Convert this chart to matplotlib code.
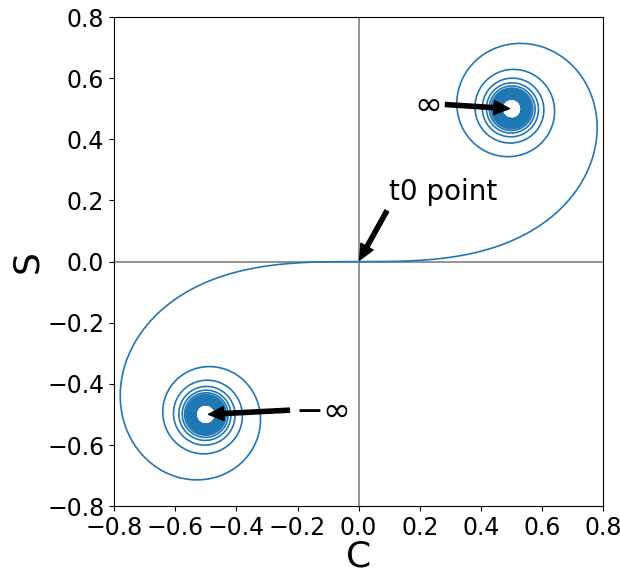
import numpy as np
import matplotlib
matplotlib.use("Agg")
import matplotlib.pyplot as plt

# Euler (Cornu) spiral: C(t), S(t) Fresnel integrals
t_min, t_max = -10.0, 10.0
n_points = 40001

t = np.linspace(t_min, t_max, n_points)
dt = t[1] - t[0]
fc = np.cos(np.pi * t**2 / 2)
fs = np.sin(np.pi * t**2 / 2)
C = np.concatenate([[0], np.cumsum((fc[1:] + fc[:-1]) / 2 * dt)])
S = np.concatenate([[0], np.cumsum((fs[1:] + fs[:-1]) / 2 * dt)])
i0 = np.argmin(np.abs(t))
C -= C[i0]
S -= S[i0]

ticks = [-0.8, -0.6, -0.4, -0.2, 0.0, 0.2, 0.4, 0.6, 0.8]

fig = plt.figure(figsize=(6.2, 5.7), dpi=100)
ax = fig.add_axes([0.184, 0.112, 0.789, 0.858])

ax.axhline(0, color='gray', lw=1.2)
ax.axvline(0, color='gray', lw=1.2)
ax.plot(C, S, color='#1f77b4', lw=1.2)

arrow = dict(facecolor='black', edgecolor='black', shrink=0.03, width=3, headwidth=10, headlength=11)
ax.annotate('t0 point', xy=(0, 0), xytext=(0.1, 0.2), fontsize=20, arrowprops=arrow)
ax.annotate(r'$\infty$', xy=(0.5, 0.5), xytext=(0.225, 0.515), fontsize=24,
            ha='center', va='center', arrowprops=arrow)
ax.annotate(r'$-\infty$', xy=(-0.5, -0.5), xytext=(-0.12, -0.485), fontsize=24,
            ha='center', va='center', arrowprops=arrow)

ax.set_xlim(-0.8, 0.8)
ax.set_ylim(-0.8, 0.8)
ax.set_xticks(ticks)
ax.set_yticks(ticks)
ax.tick_params(labelsize=17)
ax.set_xlabel('C', fontsize=26, labelpad=0)
ax.set_ylabel('S', fontsize=26, labelpad=2)

fig.savefig('out.png', dpi=100)
